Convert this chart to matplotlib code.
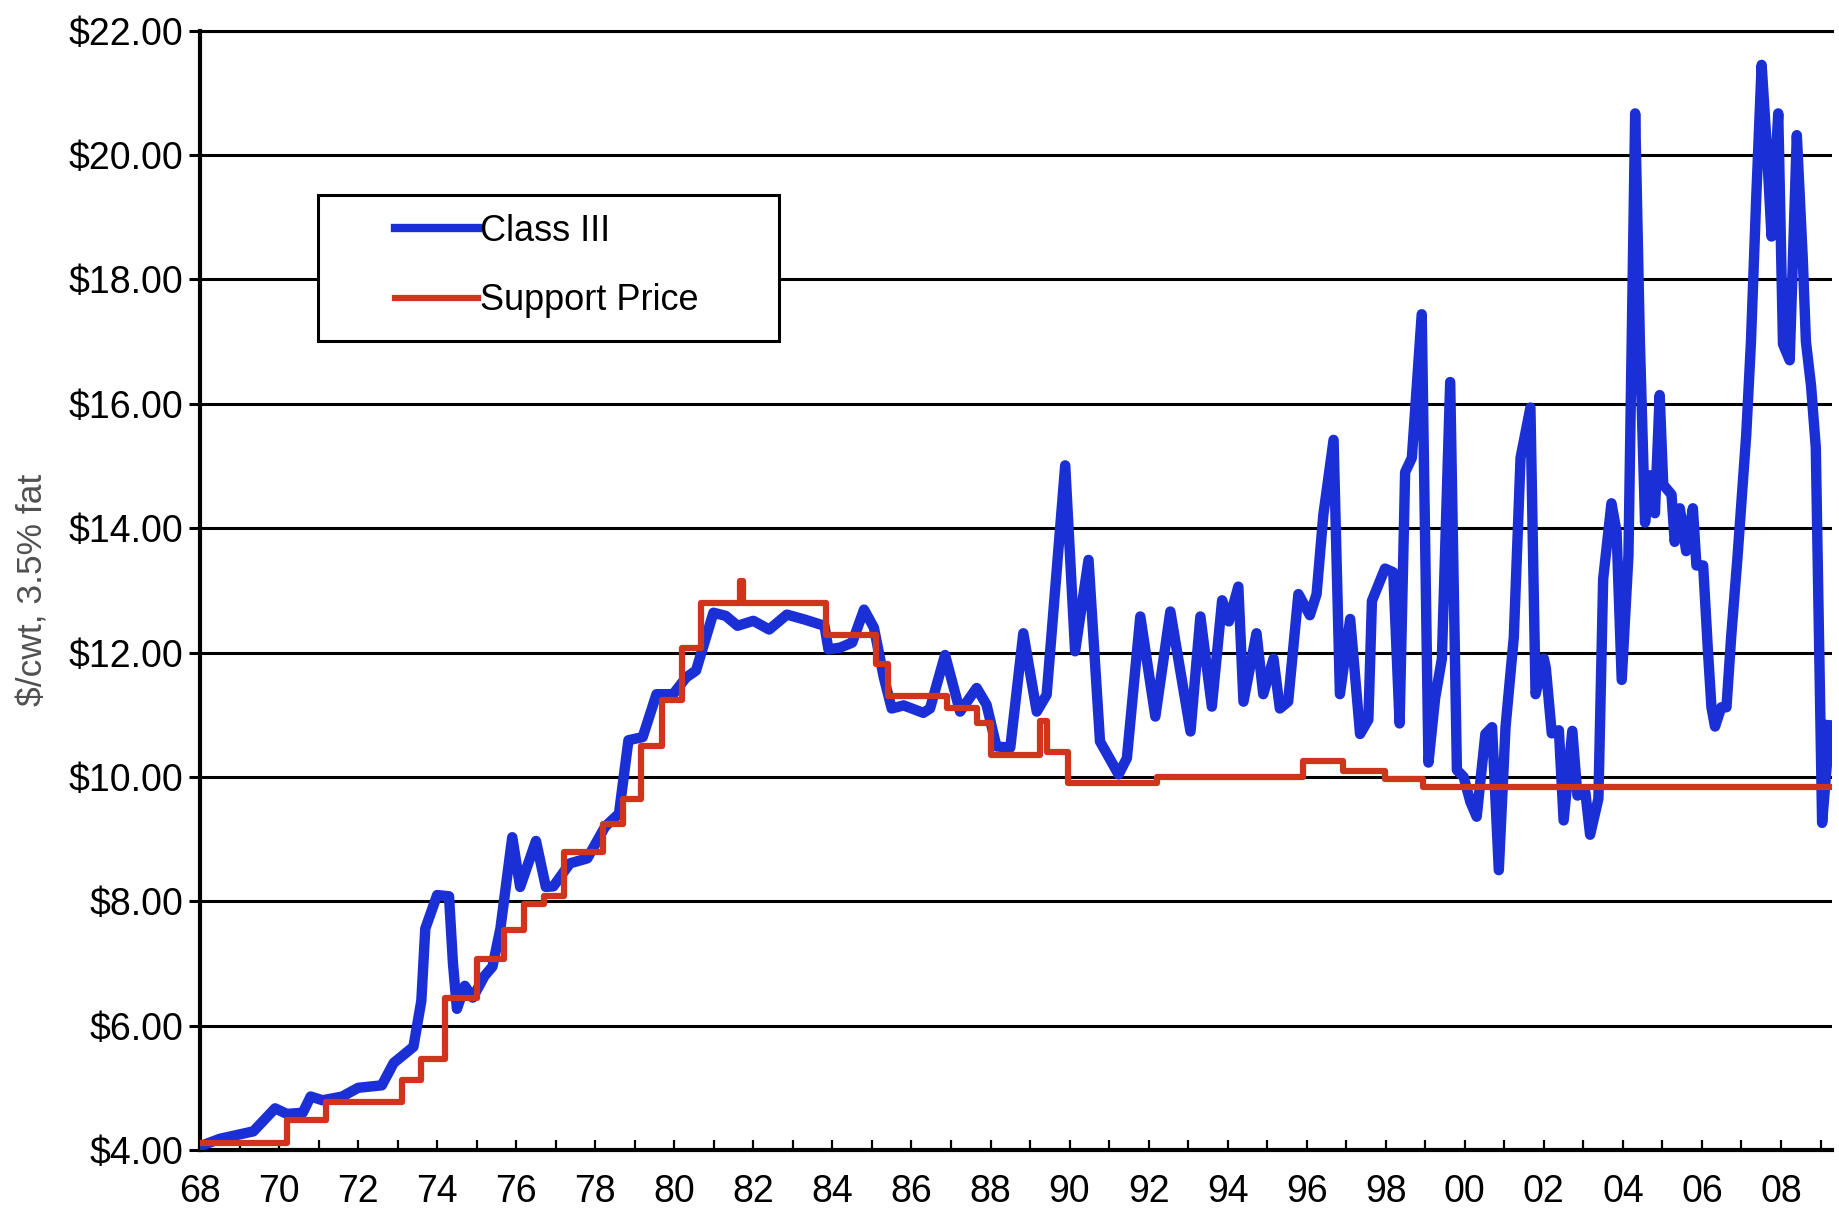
import matplotlib
matplotlib.use("Agg")
import matplotlib.pyplot as plt
from matplotlib.patches import Rectangle
from matplotlib.ticker import FixedLocator, FuncFormatter

# ---- data (year as decimal, $/cwt) ----
class3_year = [
    1968.00, 1968.50, 1969.00, 1969.35, 1969.90, 1970.20, 1970.60, 1970.80, 1971.10, 1971.60,
    1972.00, 1972.60, 1972.90, 1973.40, 1973.60, 1973.70, 1974.00, 1974.30, 1974.40, 1974.50,
    1974.70, 1974.90, 1975.20, 1975.40, 1975.60, 1975.90, 1976.10, 1976.50, 1976.75, 1976.94,
    1977.36, 1977.80, 1978.25, 1978.60, 1978.84, 1979.20, 1979.55, 1979.97, 1980.30, 1980.55,
    1980.70, 1980.99, 1981.30, 1981.60, 1982.00, 1982.40, 1982.85, 1983.30, 1983.80, 1983.90,
    1984.20, 1984.50, 1984.80, 1985.05, 1985.30, 1985.50, 1985.80, 1986.30, 1986.47, 1986.85,
    1987.23, 1987.65, 1987.90, 1988.15, 1988.50, 1988.83, 1989.17, 1989.42, 1989.89, 1990.14,
    1990.48, 1990.77, 1991.24, 1991.45, 1991.79, 1992.17, 1992.55, 1993.06, 1993.31, 1993.60,
    1993.86, 1994.03, 1994.27, 1994.40, 1994.73, 1994.90, 1995.16, 1995.32, 1995.53, 1995.79,
    1996.08, 1996.25, 1996.42, 1996.68, 1996.84, 1997.10, 1997.35, 1997.56, 1997.65, 1997.98,
    1998.19, 1998.35, 1998.49, 1998.66, 1998.91, 1999.08, 1999.25, 1999.42, 1999.63, 1999.80,
    1999.97, 2000.14, 2000.30, 2000.52, 2000.69, 2000.86, 2001.03, 2001.24, 2001.41, 2001.66,
    2001.79, 2002.00, 2002.05, 2002.20, 2002.38, 2002.50, 2002.72, 2002.85, 2003.05, 2003.17,
    2003.38, 2003.50, 2003.71, 2003.84, 2003.97, 2004.14, 2004.31, 2004.43, 2004.56, 2004.68,
    2004.81, 2004.93, 2005.02, 2005.23, 2005.31, 2005.44, 2005.60, 2005.77, 2005.86, 2006.03,
    2006.15, 2006.24, 2006.33, 2006.49, 2006.62, 2006.74, 2006.90, 2007.12, 2007.24, 2007.37,
    2007.51, 2007.64, 2007.76, 2007.93, 2008.05, 2008.22, 2008.40, 2008.55, 2008.63, 2008.76,
    2008.88, 2009.04, 2009.24,
]
class3_price = [
    4.06, 4.18, 4.25, 4.30, 4.67, 4.58, 4.60, 4.86, 4.80, 4.86,
    5.00, 5.04, 5.40, 5.66, 6.40, 7.56, 8.10, 8.08, 7.00, 6.27,
    6.64, 6.45, 6.80, 6.95, 7.56, 9.03, 8.23, 8.97, 8.23, 8.24,
    8.61, 8.69, 9.20, 9.41, 10.59, 10.64, 11.33, 11.33, 11.60, 11.71,
    12.03, 12.64, 12.59, 12.43, 12.51, 12.37, 12.61, 12.53, 12.43, 12.05,
    12.08, 12.16, 12.69, 12.40, 11.60, 11.10, 11.15, 11.03, 11.10, 11.96,
    11.05, 11.43, 11.16, 10.49, 10.47, 12.31, 11.05, 11.32, 15.01, 12.02,
    13.49, 10.57, 10.04, 10.30, 12.58, 10.97, 12.66, 10.73, 12.58, 11.13,
    12.84, 12.50, 13.06, 11.21, 12.31, 11.33, 11.90, 11.10, 11.21, 12.94,
    12.60, 12.94, 14.21, 15.42, 11.33, 12.54, 10.69, 10.92, 12.83, 13.35,
    13.29, 10.86, 14.90, 15.13, 17.44, 10.23, 11.27, 11.90, 16.35, 10.11,
    10.00, 9.60, 9.36, 10.69, 10.80, 8.50, 10.80, 12.25, 15.13, 15.94,
    11.33, 11.90, 11.75, 10.70, 10.75, 9.30, 10.74, 9.70, 9.75, 9.07,
    9.65, 13.18, 14.40, 13.94, 11.56, 13.56, 20.67, 16.98, 14.09, 14.85,
    14.24, 16.14, 14.70, 14.54, 13.78, 14.32, 13.63, 14.32, 13.40, 13.40,
    12.04, 11.12, 10.81, 11.12, 11.12, 12.26, 13.54, 15.50, 17.00, 19.26,
    21.45, 20.13, 18.69, 20.67, 16.96, 16.70, 20.32, 18.34, 17.00, 16.29,
    15.30, 9.26, 10.83,
]

support_year = [
    1968.00, 1970.20, 1971.20, 1973.10, 1973.60, 1974.20, 1975.00, 1975.70, 1976.20, 1976.70,
    1977.20, 1978.20, 1978.70, 1979.15, 1979.70, 1980.20, 1980.67, 1981.66, 1981.74, 1983.85,
    1985.10, 1985.40, 1986.90, 1987.65, 1988.00, 1989.25, 1989.42, 1989.97, 1992.20, 1995.90,
    1996.93, 1997.98, 1998.95, 2009.29,
]
support_price = [
    4.12, 4.49, 4.77, 5.13, 5.47, 6.45, 7.07, 7.53, 7.96, 8.08,
    8.80, 9.25, 9.65, 10.50, 11.23, 12.08, 12.80, 13.15, 12.80, 12.29,
    11.81, 11.30, 11.10, 10.87, 10.36, 10.90, 10.40, 9.90, 10.00, 10.26,
    10.09, 9.97, 9.83, 9.83,
]

y_ticks = [4, 6, 8, 10, 12, 14, 16, 18, 20, 22]
x_ticks = list(range(1968, 2010))
x_labels = [f"{y % 100:02d}" if y % 2 == 0 else "" for y in x_ticks]

BLUE = "#1a30d6"
RED = "#d0341c"

plt.rcParams["font.family"] = ["Liberation Sans", "DejaVu Sans"]

fig = plt.figure(figsize=(18.39, 12.12), dpi=100)
ax = fig.add_axes([200 / 1839, 1 - 1150 / 1212, 1632 / 1839, (1150 - 30.7) / 1212])

ax.plot(class3_year, class3_price, color=BLUE, lw=7.5, label="Class III", zorder=3)
ax.step(support_year, support_price, where="post", color=RED, lw=4.5,
        label="Support Price", zorder=3.5)

ax.set_xlim(1968, 2009.29)
ax.set_ylim(4, 22)

ax.yaxis.set_major_locator(FixedLocator(y_ticks))
ax.yaxis.set_major_formatter(FuncFormatter(lambda v, p: f"${v:.2f}"))
ax.set_xticks(x_ticks)
ax.set_xticklabels(x_labels)

ax.tick_params(axis="y", direction="out", length=8, width=2.2, pad=4,
               labelsize=27, colors="black")
ax.tick_params(axis="x", direction="in", length=7, width=1.6, pad=17,
               labelsize=27, colors="black")

ax.yaxis.grid(True, color="black", lw=2.2)
ax.set_axisbelow(True)

ax.spines["right"].set_visible(False)
ax.spines["top"].set_linewidth(2.2)
ax.spines["left"].set_linewidth(3.0)
ax.spines["bottom"].set_linewidth(3.0)

fig.text(33 / 1839, 1 - 590 / 1212, "$/cwt, 3.5% fat", rotation=90,
         ha="center", va="center", fontsize=25.5, color="#505050")

# legend box
x0 = (318 - 200) / 1632
x1 = (779 - 200) / 1632
yb = (1150 - 341) / 1119.3
yt = (1150 - 195) / 1119.3
ax.add_patch(Rectangle((x0, yb), x1 - x0, yt - yb, transform=ax.transAxes,
                       facecolor="white", edgecolor="black", lw=2.2, zorder=4))
leg = ax.legend(loc="upper left", bbox_to_anchor=((395 - 200) / 1632, (1150 - 214) / 1119.3),
                frameon=False, borderpad=0, borderaxespad=0, handlelength=2.3,
                handletextpad=0.05, labelspacing=0.95, fontsize=26)
for h in leg.legend_handles:
    h.set_linewidth(6 if h.get_color() == BLUE else 4.5)
leg.set_zorder(5)

fig.savefig("out.png", dpi=100)
